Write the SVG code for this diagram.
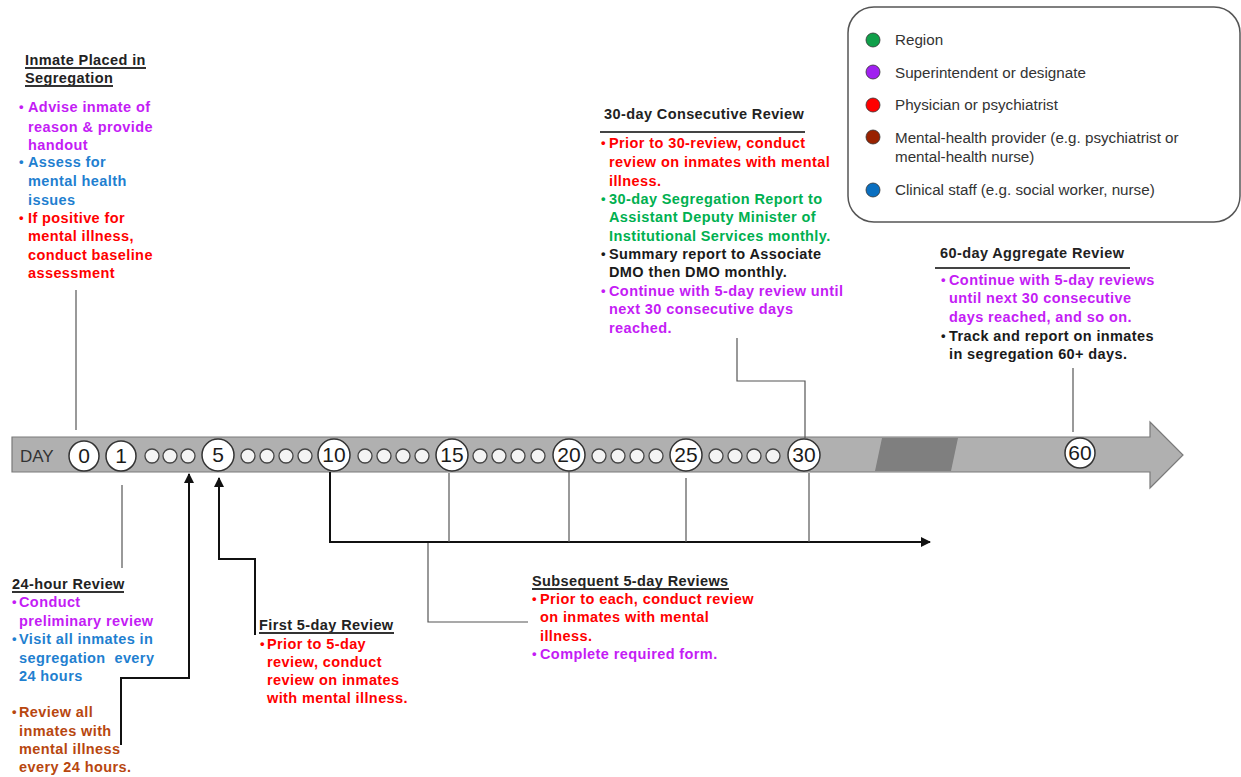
<svg xmlns="http://www.w3.org/2000/svg" width="1241" height="777" viewBox="0 0 1241 777">
<style>
text{font-family:"Liberation Sans",Arial,sans-serif}
.t{font-size:14.5px;font-weight:bold;letter-spacing:0.4px}
.h{font-size:14.5px;font-weight:bold;fill:#222;letter-spacing:0.4px}
.bu{font-size:13px;font-weight:bold}
.p{fill:#c41cf5}
.b{fill:#1f80d0}
.r{fill:#ff0000}
.g{fill:#00b050}
.k{fill:#1a1a1a}
.o{fill:#b8470f}
.ul{stroke:#333;stroke-width:2}
.lg{font-size:15.2px;fill:#333}
.num{font-size:21px;fill:#1a1a1a;text-anchor:middle}
.big{fill:#fff;stroke:#333;stroke-width:1.5}
.sm{fill:#f4f4f4;stroke:#444;stroke-width:1.3}
.thin{stroke:#555;stroke-width:1.2;fill:none}
.thick{stroke:#111;stroke-width:2;fill:none}
</style>
<defs>
<marker id="ah" viewBox="0 0 10 10" refX="9" refY="5" markerWidth="5" markerHeight="5" orient="auto-start-reverse">
<path d="M0,0 L10,5 L0,10 z" fill="#111"/>
</marker>
</defs>

<g id="legend">
<rect x="848" y="7" width="392" height="215" rx="26" fill="#fff" stroke="#555" stroke-width="1.5"/>
<circle cx="873" cy="40" r="7" fill="#10a04a" stroke="#333" stroke-width="0.8"/>
<text class="lg" x="895" y="45">Region</text>
<circle cx="873" cy="72" r="7" fill="#a020f0" stroke="#333" stroke-width="0.8"/>
<text class="lg" x="895" y="78">Superintendent or designate</text>
<circle cx="873" cy="105" r="7" fill="#ff0000" stroke="#333" stroke-width="0.8"/>
<text class="lg" x="895" y="110">Physician or psychiatrist</text>
<circle cx="873" cy="137" r="7" fill="#992200" stroke="#333" stroke-width="0.8"/>
<text class="lg" x="895" y="143">Mental-health provider (e.g. psychiatrist or</text>
<text class="lg" x="895" y="162">mental-health nurse)</text>
<circle cx="873" cy="190" r="7" fill="#0a6fc0" stroke="#333" stroke-width="0.8"/>
<text class="lg" x="895" y="195">Clinical staff (e.g. social worker, nurse)</text>
</g>

<g id="timeline">
<polygon points="12,437 1150,437 1150,422 1183,455 1150,488 1150,472 12,472" fill="#b0b0b0" stroke="#7a7a7a" stroke-width="1.2"/>
<polygon points="882,438 958,438 951,471 875,471" fill="#7f7f7f"/>
<text x="20" y="462" font-size="17" fill="#333">DAY</text>
<circle class="big" cx="84" cy="456" r="15"/><text class="num" x="84" y="463">0</text>
<circle class="big" cx="121" cy="456" r="15"/><text class="num" x="121" y="463">1</text>
<circle class="sm" cx="152" cy="456" r="7"/><circle class="sm" cx="170" cy="456" r="7"/><circle class="sm" cx="188" cy="456" r="7"/>
<circle class="big" cx="218" cy="455" r="16"/><text class="num" x="218" y="462">5</text>
<circle class="sm" cx="248" cy="456" r="7"/><circle class="sm" cx="267" cy="456" r="7"/><circle class="sm" cx="286" cy="456" r="7"/><circle class="sm" cx="305" cy="456" r="7"/>
<circle class="big" cx="334" cy="455" r="16"/><text class="num" x="334" y="462">10</text>
<circle class="sm" cx="365" cy="456" r="7"/><circle class="sm" cx="384" cy="456" r="7"/><circle class="sm" cx="403" cy="456" r="7"/><circle class="sm" cx="422" cy="456" r="7"/>
<circle class="big" cx="452" cy="455" r="16"/><text class="num" x="452" y="462">15</text>
<circle class="sm" cx="480" cy="456" r="7"/><circle class="sm" cx="499" cy="456" r="7"/><circle class="sm" cx="518" cy="456" r="7"/><circle class="sm" cx="538" cy="456" r="7"/>
<circle class="big" cx="569" cy="455" r="16"/><text class="num" x="569" y="462">20</text>
<circle class="sm" cx="599" cy="456" r="7"/><circle class="sm" cx="618" cy="456" r="7"/><circle class="sm" cx="637" cy="456" r="7"/><circle class="sm" cx="656" cy="456" r="7"/>
<circle class="big" cx="686" cy="455" r="16"/><text class="num" x="686" y="462">25</text>
<circle class="sm" cx="716" cy="456" r="7"/><circle class="sm" cx="735" cy="456" r="7"/><circle class="sm" cx="754" cy="456" r="7"/><circle class="sm" cx="773" cy="456" r="7"/>
<circle class="big" cx="804" cy="455" r="16"/><text class="num" x="804" y="462">30</text>
<circle class="big" cx="1080" cy="453" r="15"/><text class="num" x="1080" y="460">60</text>
</g>

<g id="connectors">
<line class="thin" x1="76" y1="290" x2="76" y2="430"/>
<line class="thin" x1="122" y1="485" x2="122" y2="568"/>
<polyline class="thick" points="121,745 121,678 189,678 189,474" marker-end="url(#ah)"/>
<polyline class="thick" points="255,635 255,559 219,559 219,478" marker-end="url(#ah)"/>
<polyline class="thick" points="330,472 330,542 930,542" marker-end="url(#ah)"/>
<line class="thin" x1="449" y1="473" x2="449" y2="542"/>
<line class="thin" x1="569" y1="472" x2="569" y2="542"/>
<line class="thin" x1="686" y1="478" x2="686" y2="542"/>
<line class="thin" x1="809" y1="473" x2="809" y2="542"/>
<polyline class="thin" points="428,543 428,622 528,622" stroke="#777" stroke-width="1.5"/>
<polyline class="thin" points="737,338 737,381 805,381 805,438"/>
<line class="thin" x1="1073" y1="368" x2="1073" y2="432"/>
</g>

<g id="inmate-placed">
<text class="h" x="25" y="65">Inmate Placed in</text>
<line class="ul" x1="25" y1="68" x2="146" y2="68"/>
<text class="h" x="25" y="83">Segregation</text>
<line class="ul" x1="25" y1="86" x2="113" y2="86"/>
<text class="bu p" x="19" y="111">•</text>
<text class="t p" x="28" y="112">Advise inmate of</text>
<text class="t p" x="28" y="132">reason &amp; provide</text>
<text class="t p" x="28" y="150">handout</text>
<text class="bu b" x="19" y="166">•</text>
<text class="t b" x="28" y="167">Assess for</text>
<text class="t b" x="28" y="186">mental health</text>
<text class="t b" x="28" y="205">issues</text>
<text class="bu r" x="19" y="222">•</text>
<text class="t r" x="28" y="223">If positive for</text>
<text class="t r" x="28" y="241">mental illness,</text>
<text class="t r" x="28" y="260">conduct baseline</text>
<text class="t r" x="28" y="278">assessment</text>
</g>

<g id="review-24h">
<text class="h" x="12" y="589">24-hour Review</text>
<line class="ul" x1="12" y1="592" x2="124" y2="592"/>
<text class="bu p" x="12" y="606">•</text>
<text class="t p" x="19" y="607">Conduct</text>
<text class="t p" x="19" y="626">preliminary review</text>
<text class="bu b" x="12" y="643">•</text>
<text class="t b" x="19" y="644">Visit all inmates in</text>
<text class="t b" x="19" y="663" xml:space="preserve">segregation  every</text>
<text class="t b" x="19" y="681">24 hours</text>
<text class="bu o" x="12" y="716">•</text>
<text class="t o" x="19" y="717">Review all</text>
<text class="t o" x="19" y="736">inmates with</text>
<text class="t o" x="19" y="754">mental illness</text>
<text class="t o" x="19" y="772">every 24 hours.</text>
</g>

<g id="review-first-5day">
<text class="h" x="259" y="630">First 5-day Review</text>
<line class="ul" x1="259" y1="633" x2="394" y2="633"/>
<text class="bu r" x="260" y="648">•</text>
<text class="t r" x="267" y="649">Prior to 5-day</text>
<text class="t r" x="267" y="667">review, conduct</text>
<text class="t r" x="267" y="685">review on inmates</text>
<text class="t r" x="267" y="703">with mental illness.</text>
</g>

<g id="review-subsequent">
<text class="h" x="532" y="586">Subsequent 5-day Reviews</text>
<line class="ul" x1="532" y1="589" x2="729" y2="589"/>
<text class="bu r" x="532" y="603">•</text>
<text class="t r" x="540" y="604">Prior to each, conduct review</text>
<text class="t r" x="540" y="622">on inmates with mental</text>
<text class="t r" x="540" y="641">illness.</text>
<text class="bu p" x="532" y="658">•</text>
<text class="t p" x="540" y="659">Complete required form.</text>
</g>

<g id="review-30day">
<text class="h" x="604" y="119">30-day Consecutive Review</text>
<line x1="600" y1="132" x2="805" y2="132" stroke="#444" stroke-width="2"/>
<text class="bu r" x="601" y="147">•</text>
<text class="t r" x="609" y="148">Prior to 30-review, conduct</text>
<text class="t r" x="609" y="167">review on inmates with mental</text>
<text class="t r" x="609" y="186">illness.</text>
<text class="bu g" x="601" y="203">•</text>
<text class="t g" x="609" y="204">30-day Segregation Report to</text>
<text class="t g" x="609" y="222">Assistant Deputy Minister of</text>
<text class="t g" x="609" y="241">Institutional Services monthly.</text>
<text class="bu k" x="601" y="258">•</text>
<text class="t k" x="609" y="259">Summary report to Associate</text>
<text class="t k" x="609" y="277">DMO then DMO monthly.</text>
<text class="bu p" x="601" y="295">•</text>
<text class="t p" x="609" y="296">Continue with 5-day review until</text>
<text class="t p" x="609" y="314">next 30 consecutive days</text>
<text class="t p" x="609" y="333">reached.</text>
</g>

<g id="review-60day">
<text class="h" x="940" y="258">60-day Aggregate Review</text>
<line x1="935" y1="268" x2="1130" y2="268" stroke="#444" stroke-width="2"/>
<text class="bu p" x="941" y="284">•</text>
<text class="t p" x="949" y="285">Continue with 5-day reviews</text>
<text class="t p" x="949" y="303">until next 30 consecutive</text>
<text class="t p" x="949" y="322">days reached, and so on.</text>
<text class="bu k" x="941" y="340">•</text>
<text class="t k" x="949" y="341">Track and report on inmates</text>
<text class="t k" x="949" y="359">in segregation 60+ days.</text>
</g>
</svg>
